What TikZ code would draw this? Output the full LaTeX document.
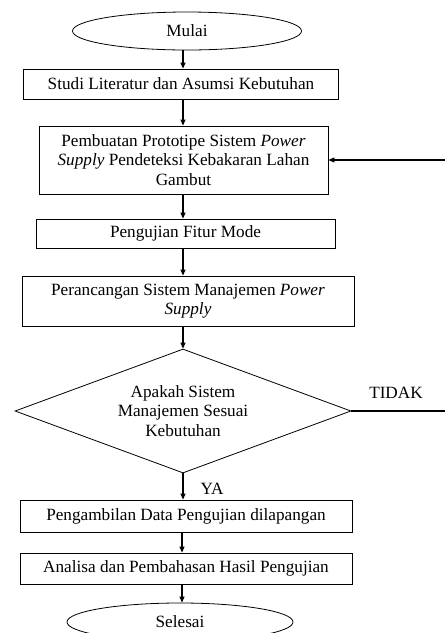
\documentclass[tikz,border=0pt]{standalone}
\usepackage{fontspec}
\setmainfont{Liberation Serif}
\usetikzlibrary{arrows.meta,calc,positioning,shapes.geometric}

\begin{document}
\begin{tikzpicture}[
  x=1pt,
  y=-1pt,
  font=\fontsize{17.2}{19.5}\selectfont,
  >={Triangle[length=6pt,width=5pt]},
  terminal/.style={draw, ellipse, line width=0.8pt, inner sep=0pt},
  procbox/.style={draw, line width=0.8pt, align=center, inner sep=1pt},
  decision/.style={draw, diamond, line width=0.8pt, align=center, inner sep=0pt, aspect=2.7},
  flow/.style={->, line width=1.1pt}
]
  \useasboundingbox (0,0) rectangle (445,633);
  \coordinate (axis) at (183,0);

  \node[terminal, minimum width=229, minimum height=38] (mulai) at (187,31) {Mulai};
  \node[procbox, minimum width=315, minimum height=30] (studi) at (181,84) {Studi Literatur dan Asumsi Kebutuhan};
  \node[procbox, minimum width=289, minimum height=68] (proto) at (183.5,160)
    {Pembuatan Prototipe Sistem \textit{Power}\\\textit{Supply} Pendeteksi Kebakaran Lahan\\Gambut};
  \node[procbox, minimum width=299, minimum height=29] (mode) at (185.5,233.5) {Pengujian Fitur Mode};
  \node[procbox, minimum width=332, minimum height=50] (rancang) at (188,301)
    {Perancangan Sistem Manajemen \textit{Power}\\\textit{Supply}};
  \node[decision, minimum width=336, minimum height=124] (cek) at (183,411)
    {Apakah Sistem\\Manajemen Sesuai\\Kebutuhan};
  \node[procbox, minimum width=332, minimum height=32] (ambil) at (186,516) {Pengambilan Data Pengujian dilapangan};
  \node[procbox, minimum width=332, minimum height=31] (analisa) at (186,568.5) {Analisa dan Pembahasan Hasil Pengujian};
  \node[terminal, minimum width=226, minimum height=38] (selesai) at (180,622) {Selesai};

  \node (tidak) at (396,393) {TIDAK};
  \node (ya) at (212,489) {YA};
  \coordinate (balik) at (448,411);

  \draw[flow] (mulai.south -| axis) -- (studi.north -| axis);
  \draw[flow] (studi.south -| axis) -- (proto.north -| axis);
  \draw[flow] (proto.south -| axis) -- (mode.north -| axis);
  \draw[flow] (mode.south -| axis) -- (rancang.north -| axis);
  \draw[flow] (rancang.south -| axis) -- (cek.north);
  \draw[flow] (cek.south) -- (ambil.north -| axis);
  \draw[flow] (ambil.south -| 182,0) -- (analisa.north -| 182,0);
  \draw[flow] (analisa.south -| 182,0) -- (selesai.north -| 182,0);
  \draw[flow] (cek.east) -- (balik) |- (proto.east);
\end{tikzpicture}
\end{document}
